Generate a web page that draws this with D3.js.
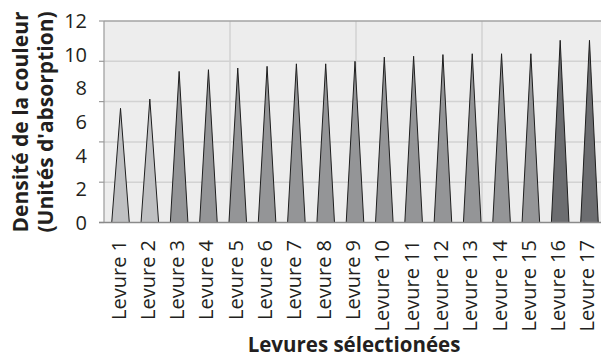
<!DOCTYPE html>
<html>
<head>
<meta charset="utf-8">
<script src="https://cdn.jsdelivr.net/npm/d3@7"></script>
<style>
  html, body { margin: 0; padding: 0; background: #ffffff; }
  svg { display: block; }
  text { font-family: "Open Sans", sans-serif; fill: #231f20; }
</style>
</head>
<body>
<svg id="chart" width="601" height="357"></svg>
<script>
// Categories and measured colour density (absorption units)
const categories = ["Levure 1", "Levure 2", "Levure 3", "Levure 4", "Levure 5", "Levure 6",
  "Levure 7", "Levure 8", "Levure 9", "Levure 10", "Levure 11", "Levure 12", "Levure 13",
  "Levure 14", "Levure 15", "Levure 16", "Levure 17"];
const densities = [6.8, 7.35, 9.0, 9.1, 9.2, 9.3, 9.45, 9.45, 9.6, 9.85, 9.9, 10.0, 10.05,
  10.05, 10.05, 10.85, 10.85];
// Shade group per strain: 0 light, 1 medium, 2 dark
const shadeGroups = [0, 0, 1, 1, 1, 1, 1, 1, 1, 1, 1, 1, 1, 1, 1, 2, 2];
const shadeColors = ["#bfc0c2", "#949597", "#6c6d70"];
const yTickLabels = [0, 2, 4, 6, 8, 10, 12];
const yGridValues = [0, 2.4, 4.8, 7.2, 9.6, 12];
const xGridColumns = [0, 1, 2, 3, 4];
const xTitle = "Levures sélectionées";
const yTitleLines = ["Densité de la couleur", "(Unités d'absorption)"];

const svg = d3.select("#chart");
const plot = { left: 104, right: 608, top: 21, bottom: 222.5 };

const x = d3.scaleBand().domain(categories).range([100, 610]).padding(0.4);
const y = d3.scaleLinear().domain([0, 12]).range([plot.bottom, plot.top]);
const xCol = d3.scaleLinear().domain([0, 4]).range([plot.left, plot.right]);

// Plot background
svg.append("rect")
  .attr("x", plot.left).attr("y", plot.top)
  .attr("width", plot.right - plot.left).attr("height", plot.bottom - plot.top)
  .attr("fill", "#ededed");

// Horizontal grid lines with short ticks to the left of the axis
const hGrid = svg.append("g");
hGrid.selectAll("line.grid")
  .data(yGridValues.filter(v => v > 0 && v < 12))
  .join("line").attr("class", "grid")
  .attr("x1", plot.left).attr("x2", plot.right)
  .attr("y1", d => y(d)).attr("y2", d => y(d))
  .attr("stroke", "#d2d2d2").attr("stroke-width", 1.5);
hGrid.selectAll("line.tick")
  .data(yGridValues)
  .join("line").attr("class", "tick")
  .attr("x1", plot.left - 5).attr("x2", plot.left)
  .attr("y1", d => y(d)).attr("y2", d => y(d))
  .attr("stroke", "#9a9a9a").attr("stroke-width", 1.2);

// Vertical grid lines
svg.append("g").selectAll("line")
  .data(xGridColumns.slice(1, 4))
  .join("line")
  .attr("x1", d => xCol(d)).attr("x2", d => xCol(d))
  .attr("y1", plot.top).attr("y2", plot.bottom)
  .attr("stroke", "#d2d2d2").attr("stroke-width", 1.5);

// Top border
svg.append("line")
  .attr("x1", plot.left).attr("x2", plot.right)
  .attr("y1", plot.top).attr("y2", plot.top)
  .attr("stroke", "#a3a3a3").attr("stroke-width", 1.5);

// Triangular bars
svg.append("g").selectAll("path")
  .data(categories)
  .join("path")
  .attr("d", (c, i) => {
    const x0 = x(c), x1 = x(c) + x.bandwidth(), xm = x(c) + x.bandwidth() / 2;
    return `M${x0},${y(0)}L${xm},${y(densities[i])}L${x1},${y(0)}Z`;
  })
  .attr("fill", (c, i) => shadeColors[shadeGroups[i]])
  .attr("stroke", "#1e1e1e").attr("stroke-width", 1)
  .attr("stroke-linejoin", "miter").attr("stroke-miterlimit", 20);

// Axis lines
svg.append("line")
  .attr("x1", plot.left).attr("x2", plot.left)
  .attr("y1", plot.top).attr("y2", plot.bottom)
  .attr("stroke", "#9a9a9a").attr("stroke-width", 1.2);
svg.append("line")
  .attr("x1", plot.left - 5).attr("x2", plot.right)
  .attr("y1", plot.bottom).attr("y2", plot.bottom)
  .attr("stroke", "#8a8a8a").attr("stroke-width", 1.5);

// Y tick labels
svg.append("g").selectAll("text")
  .data(yTickLabels)
  .join("text")
  .attr("x", 87).attr("y", d => y(d))
  .attr("dy", "0.36em")
  .attr("text-anchor", "end")
  .attr("font-size", 20)
  .text(d => d);

// X category labels, rotated
svg.append("g").selectAll("text")
  .data(categories)
  .join("text")
  .attr("transform", c => `translate(${x(c) + x.bandwidth() / 2},240) rotate(-90)`)
  .attr("dy", "0.25em")
  .attr("text-anchor", "end")
  .attr("font-size", 20)
  .text(c => c);

// Axis titles
svg.append("text")
  .attr("x", 354).attr("y", 345)
  .attr("dy", "0.36em")
  .attr("text-anchor", "middle")
  .attr("font-size", 20.5).attr("font-weight", 700)
  .text(xTitle);

svg.append("g").selectAll("text")
  .data(yTitleLines)
  .join("text")
  .attr("transform", (d, i) => `translate(${20 + i * 25.5},122) rotate(-90)`)
  .attr("dy", "0.36em")
  .attr("text-anchor", "middle")
  .attr("font-size", 21).attr("font-weight", 700)
  .text(d => d);
</script>
</body>
</html>
